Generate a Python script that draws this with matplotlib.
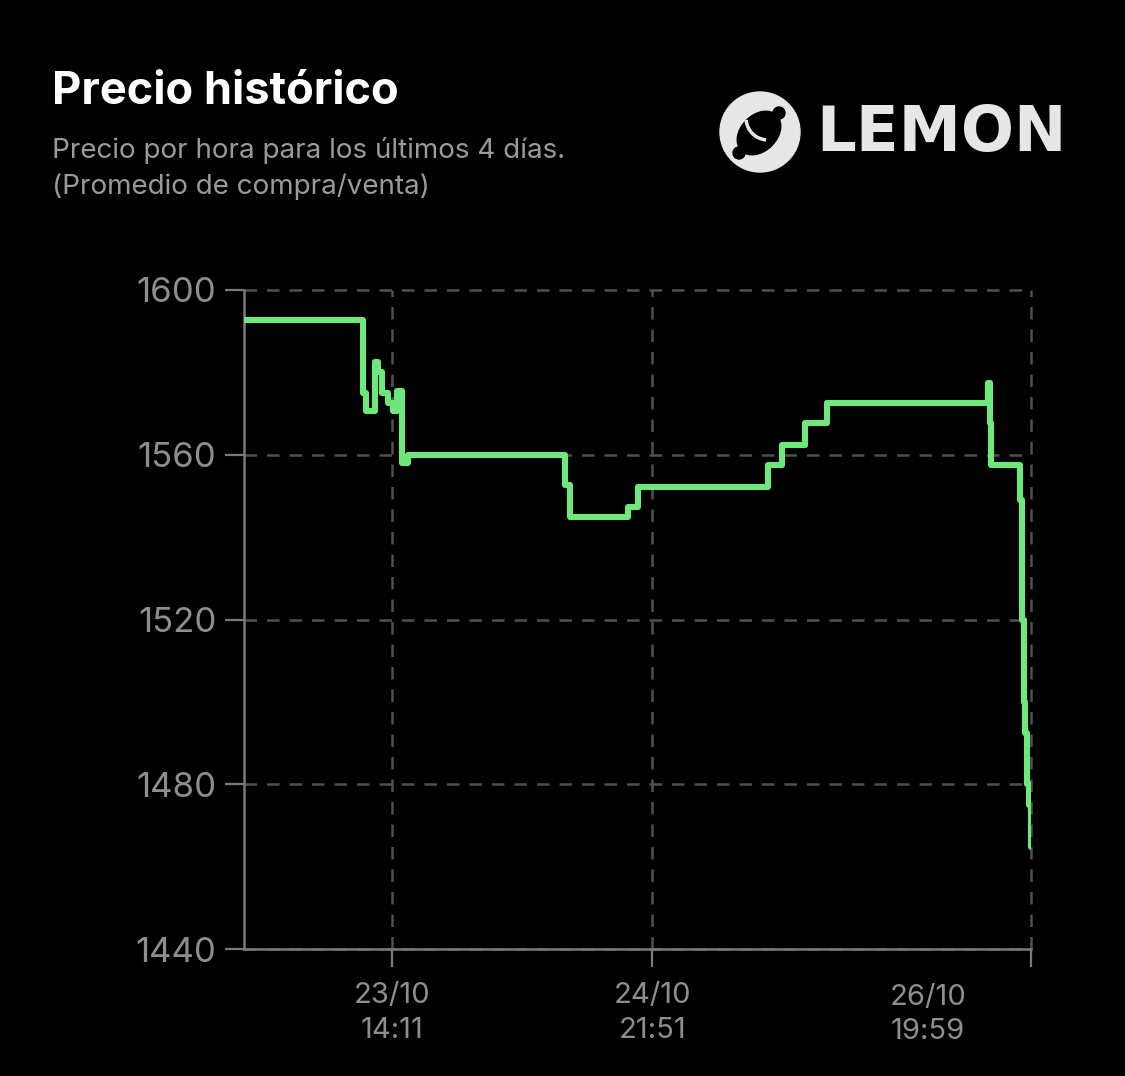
import matplotlib.pyplot as plt
from matplotlib.patches import Circle, Ellipse, Arc

# 数据：距起点的小时数 与 价格（买/卖均价）
horas = [0, 14.5, 14.9, 16.0, 16.3, 16.8, 17.6, 18.2, 18.7, 19.3, 20.0,
         39.2, 39.8, 46.8, 48.1, 63.9, 65.6, 68.4, 71.1, 90.8, 91.0, 91.1,
         94.7, 94.9, 95.1, 95.3, 95.5, 95.8, 96.0]
precios = [1592.7, 1575.0, 1570.5, 1582.5, 1580.0, 1575.0, 1572.5, 1570.5, 1575.5, 1558.0, 1560.0,
           1552.7, 1545.0, 1547.3, 1552.2, 1557.5, 1562.4, 1567.7, 1572.6, 1577.5, 1567.7, 1557.5,
           1549.0, 1520.0, 1500.0, 1492.4, 1480.0, 1475.0, 1464.7]

# 刻度
y_ticks = [1440, 1480, 1520, 1560, 1600]
x_ticks = [18.05, 49.8, 96.0]
x_labels = ['23/10\n14:11', '24/10\n21:51', '']
ultimo_label = '26/10\n19:59'
ultimo_pos = 83.4

plt.rcParams['font.family'] = ['Inter', 'DejaVu Sans']

fig = plt.figure(figsize=(11.25, 10.76), dpi=100, facecolor='black')
ax = fig.add_axes([0.2169, 0.118, 0.6996, 0.6125])
ax.set_facecolor('black')

# 折线（阶梯）
ax.plot(horas, precios, drawstyle='steps-post', color='#6FE87B', lw=4.4,
        solid_joinstyle='round', solid_capstyle='round', zorder=3)

ax.set_xlim(0, 96)
ax.set_ylim(1440, 1600)
ax.set_yticks(y_ticks)
ax.set_xticks(x_ticks)
ax.set_xticklabels(x_labels, linespacing=1.35)

# 网格与坐标轴
ax.grid(True, color='#505050', linestyle=(0, (5, 4)), lw=1.8)
for gl in ax.get_xgridlines() + ax.get_ygridlines():
    gl.set_clip_on(False)
for s in ['top', 'right']:
    ax.spines[s].set_visible(False)
for s in ['left', 'bottom']:
    ax.spines[s].set_color('#7a7a7a')
    ax.spines[s].set_linewidth(1.8)
    ax.spines[s].set_zorder(2.5)
ax.tick_params(axis='y', length=14, width=1.6, color='#7a7a7a', labelcolor='#8e8e8e',
               labelsize=25, pad=6)
ax.tick_params(axis='x', length=13, width=1.6, color='#7a7a7a', labelcolor='#8e8e8e',
               labelsize=21, pad=11)
ax.text(ultimo_pos, -0.0524, ultimo_label, transform=ax.get_xaxis_transform(),
        ha='center', va='top', fontsize=21, color='#8e8e8e', linespacing=1.35)

# 标题
fig.text(0.0462, 0.9033, 'Precio histórico', color='white', fontsize=32.5,
         fontweight='bold', va='baseline')
fig.text(0.0462, 0.8532, 'Precio por hora para los últimos 4 días.', color='#9a9a9a',
         fontsize=20, va='baseline')
fig.text(0.0462, 0.8197, '(Promedio de compra/venta)', color='#9a9a9a',
         fontsize=20, va='baseline')

# LEMON 标志
lg = fig.add_axes([0, 0, 1, 1])
lg.set_xlim(0, 1125)
lg.set_ylim(1076, 0)
lg.axis('off')
lg.patch.set_alpha(0)
lg.add_patch(Circle((760, 132), 40, color='#e6e6e6'))
lg.add_patch(Ellipse((759, 133), 50, 36, angle=-45, color='black'))
lg.add_patch(Circle((779, 113), 6, color='black'))
lg.add_patch(Circle((739, 153), 6, color='black'))
lg.add_patch(Arc((768, 118), 44, 44, angle=0, theta1=95, theta2=175, color='#e6e6e6', lw=2.5))
lg.text(816, 151, 'LEMON', color='#e6e6e6', fontsize=45, fontweight='heavy',
        family='DejaVu Sans', va='baseline', ha='left')

plt.savefig('out.png', dpi=100, facecolor='black')
